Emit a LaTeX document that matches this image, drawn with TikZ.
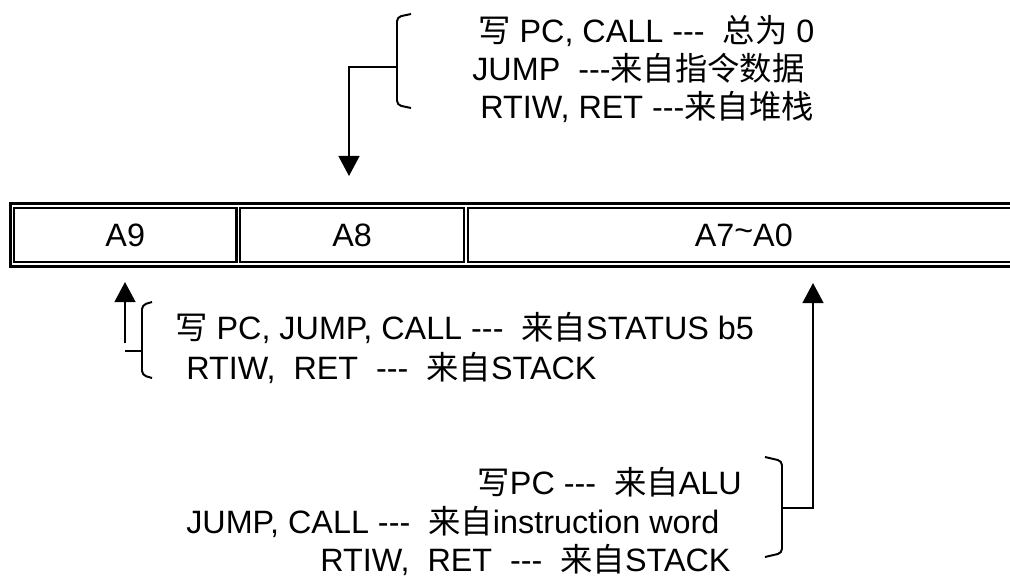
\documentclass[tikz,border=0pt]{standalone}
\usepackage{fontspec}
\setmainfont{Liberation Sans}
\newfontfamily\cjk{Noto Sans CJK SC}
\newcommand{\zh}[1]{{\cjk #1}}
\newcommand{\dsh}{-\kern0pt-\kern0pt-}
\usetikzlibrary{arrows.meta, positioning}

\begin{document}
\begin{tikzpicture}[x=0.025cm, y=-0.025cm, arrow/.style={-{Triangle[length=0.5cm, width=0.52cm]}, line width=1.4pt}, brace/.style={line width=1.4pt, rounded corners=3pt}, cell/.style={draw, line width=1.5pt, inner sep=0pt, outer sep=0pt, minimum height=1.35cm, font=\fontsize{23}{27}\selectfont}, frame/.style={line width=2.2pt}, txt/.style={font=\fontsize{23}{27}\selectfont, inner sep=0pt}]
\useasboundingbox (0,0) rectangle (1010,579);

% register
\node[cell, minimum width=5.56cm, anchor=north west] (a9) at (14,208) {A9};
\node[cell, minimum width=5.6cm, right=0.09cm of a9] (a8) {A8}; \node[cell, minimum width=13.8cm, right=0.09cm of a8] (a70) {A7\raisebox{0.15em}{\char"007E}A0};
\draw[frame] ([shift={(-3.5,-4.5)}]a9.north west) rectangle ([shift={(3.5,4.5)}]a70.south east);

% source of A8
\node[txt, anchor=base west] (t1) at (478,42) {\zh{写} PC, CALL \dsh\ \ \zh{总为}\ 0}; \node[txt, anchor=base west] (t2) at (472,80) {JUMP \ \dsh\zh{来自指令数据}}; \node[txt, anchor=base west] (t3) at (480,118) {RTIW, RET \dsh\zh{来自堆栈}};
\coordinate (tb) at (397,67); \coordinate (ttip) at (349,176);
\draw[brace] (411,14) -- (397,17) -- (397,105) -- (411,108); \draw[arrow] (tb) -| (ttip);

% source of A9
\node[txt, anchor=base west] (m1) at (175,339) {\zh{写} PC, JUMP, CALL \dsh\ \ \zh{来自}STATUS b5}; \node[txt, anchor=base west] (m2) at (186,379) {RTIW,\ \ RET\ \ \dsh\ \ \zh{来自}STACK};
\coordinate (lb) at (142,351); \coordinate (lend) at (125,351); \coordinate (lfoot) at (125,343); \coordinate (ltip) at (125,282);
\draw[brace] (152,302) -- (142,305) -- (142,375) -- (152,378); \draw[line width=1.4pt] (lb) -- (lend); \draw[arrow] (lfoot) -- (ltip);

% source of A7~A0
\node[txt, anchor=base east] (b1) at (742,494) {\zh{写}PC \dsh\ \ \zh{来自}ALU}; \node[txt, anchor=base west] (b2) at (186,533) {JUMP, CALL \dsh\ \ \zh{来自}instruction word}; \node[txt, anchor=base west] (b3) at (320,571) {RTIW,\ \ RET\ \ \dsh\ \ \zh{来自}STACK};
\coordinate (rb) at (782,508); \coordinate (rtip) at (813,283);
\draw[brace] (765,457) -- (782,461) -- (782,553) -- (765,557); \draw[arrow] (rb) -| (rtip);
\end{tikzpicture}
\end{document}
